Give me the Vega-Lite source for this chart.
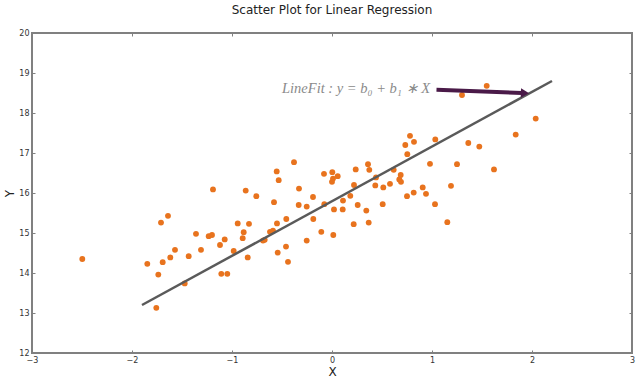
{
  "$schema": "https://vega.github.io/schema/vega-lite/v6.json",
  "autosize": {"type": "none"},
  "padding": {"left": 32, "top": 33, "right": 8, "bottom": 30},
  "width": 600,
  "height": 320,
  "title": {"text": "Scatter Plot for Linear Regression", "fontSize": 12, "font": "DejaVu Sans", "fontWeight": "normal", "color": "#222222", "offset": 12},
  "config": {
    "view": {"stroke": "#808080", "strokeWidth": 2},
    "axis": {"grid": false, "domain": false, "labelFont": "DejaVu Sans", "labelFontSize": 8, "labelColor": "#333333", "labelOverlap": false, "labelFlush": false, "tickColor": "#808080", "tickSize": -3, "labelPadding": 6, "titleFont": "DejaVu Sans", "titleFontSize": 12, "titleFontWeight": "normal", "titleColor": "#222222"}
  },
  "resolve": {"axis": {"x": "independent", "y": "independent"}},
  "datasets": {
    "pts": [
      {"x": -2.497, "y": 14.35}, {"x": -1.847, "y": 14.23}, {"x": -1.737, "y": 13.96}, {"x": -1.757, "y": 13.13},
      {"x": -1.693, "y": 14.27}, {"x": -1.71, "y": 15.26}, {"x": -1.64, "y": 15.43}, {"x": -1.617, "y": 14.39},
      {"x": -1.57, "y": 14.58}, {"x": -1.433, "y": 14.42}, {"x": -1.473, "y": 13.74}, {"x": -1.36, "y": 14.98},
      {"x": -1.31, "y": 14.58}, {"x": -1.233, "y": 14.92}, {"x": -1.2, "y": 14.95}, {"x": -1.19, "y": 16.09},
      {"x": -1.12, "y": 14.7}, {"x": -1.107, "y": 13.98}, {"x": -1.047, "y": 13.98}, {"x": -1.073, "y": 14.84},
      {"x": -0.983, "y": 14.55}, {"x": -0.943, "y": 15.24}, {"x": -0.893, "y": 14.87}, {"x": -0.883, "y": 15.02},
      {"x": -0.863, "y": 16.06}, {"x": -0.843, "y": 14.39}, {"x": -0.83, "y": 15.23}, {"x": -0.757, "y": 15.92},
      {"x": -0.69, "y": 14.81}, {"x": -0.673, "y": 14.83}, {"x": -0.62, "y": 15.03}, {"x": -0.59, "y": 15.06},
      {"x": -0.58, "y": 15.77}, {"x": -0.553, "y": 16.54}, {"x": -0.533, "y": 16.32}, {"x": -0.55, "y": 15.24},
      {"x": -0.543, "y": 14.51}, {"x": -0.457, "y": 15.35}, {"x": -0.46, "y": 14.66}, {"x": -0.44, "y": 14.28},
      {"x": -0.38, "y": 16.77}, {"x": -0.33, "y": 16.11}, {"x": -0.333, "y": 15.7}, {"x": -0.253, "y": 15.66},
      {"x": -0.253, "y": 14.81}, {"x": -0.19, "y": 15.9}, {"x": -0.187, "y": 15.35}, {"x": -0.107, "y": 15.03},
      {"x": -0.08, "y": 16.48}, {"x": -0.077, "y": 15.72}, {"x": 0.003, "y": 16.52}, {"x": 0.0, "y": 16.28},
      {"x": 0.01, "y": 16.36}, {"x": 0.057, "y": 16.42}, {"x": 0.013, "y": 14.95}, {"x": 0.02, "y": 15.59},
      {"x": 0.107, "y": 15.59}, {"x": 0.11, "y": 15.81}, {"x": 0.183, "y": 15.93}, {"x": 0.22, "y": 16.2},
      {"x": 0.237, "y": 16.59}, {"x": 0.257, "y": 15.7}, {"x": 0.217, "y": 15.22}, {"x": 0.343, "y": 15.56},
      {"x": 0.36, "y": 16.72}, {"x": 0.373, "y": 16.58}, {"x": 0.367, "y": 15.26}, {"x": 0.433, "y": 16.19},
      {"x": 0.44, "y": 16.39}, {"x": 0.507, "y": 15.72}, {"x": 0.513, "y": 16.14}, {"x": 0.58, "y": 16.23},
      {"x": 0.617, "y": 16.58}, {"x": 0.673, "y": 16.34}, {"x": 0.687, "y": 16.45}, {"x": 0.69, "y": 16.28},
      {"x": 0.733, "y": 17.2}, {"x": 0.753, "y": 16.97}, {"x": 0.78, "y": 17.43}, {"x": 0.82, "y": 17.28},
      {"x": 0.75, "y": 15.92}, {"x": 0.817, "y": 16.01}, {"x": 0.907, "y": 16.14}, {"x": 0.94, "y": 15.98},
      {"x": 0.98, "y": 16.73}, {"x": 1.03, "y": 15.72}, {"x": 1.033, "y": 17.34}, {"x": 1.153, "y": 15.27},
      {"x": 1.19, "y": 16.18}, {"x": 1.25, "y": 16.72}, {"x": 1.363, "y": 17.25}, {"x": 1.473, "y": 17.16},
      {"x": 1.62, "y": 16.59}, {"x": 1.837, "y": 17.46}, {"x": 1.547, "y": 18.68}, {"x": 1.3, "y": 18.45},
      {"x": 2.037, "y": 17.86}
    ],
    "fit": [{"x": -1.9, "y": 13.2}, {"x": 2.2, "y": 18.8}],
    "arrow": [{"x": 1.045, "y": 18.58, "x2": 1.9, "y2": 18.5}],
    "head": [{"x": 1.93, "y": 18.495}],
    "label": [{"x": 0.98, "y": 18.6, "text": "LineFit : y = b₀ + b₁ ∗ X"}]
  },
  "layer": [
    {
      "data": {"name": "pts"},
      "mark": {"type": "circle", "size": 34, "color": "#e8731e", "opacity": 1},
      "encoding": {
        "x": {"field": "x", "type": "quantitative", "scale": {"domain": [-3, 3], "nice": false, "zero": false}, "axis": {"values": [-3, -2, -1, 0, 1, 2, 3], "tickCount": 20, "format": "d", "title": "X", "titlePadding": 2}},
        "y": {"field": "y", "type": "quantitative", "scale": {"domain": [12, 20], "nice": false, "zero": false}, "axis": {"values": [12, 13, 14, 15, 16, 17, 18, 19, 20], "tickCount": 20, "format": "d", "title": "Y", "titlePadding": 2}}
      }
    },
    {
      "data": {"name": "fit"},
      "mark": {"type": "line", "color": "#5a5a5a", "strokeWidth": 2.5},
      "encoding": {
        "x": {"field": "x", "type": "quantitative", "axis": {"orient": "top", "values": [-3, -2, -1, 0, 1, 2, 3], "tickCount": 20, "labels": false, "title": null}},
        "y": {"field": "y", "type": "quantitative", "axis": {"orient": "right", "values": [12, 13, 14, 15, 16, 17, 18, 19, 20], "tickCount": 20, "labels": false, "title": null}}
      }
    },
    {
      "data": {"name": "arrow"},
      "mark": {"type": "rule", "color": "#4a1a48", "strokeWidth": 4},
      "encoding": {
        "x": {"field": "x", "type": "quantitative", "axis": null},
        "y": {"field": "y", "type": "quantitative", "axis": null},
        "x2": {"field": "x2"},
        "y2": {"field": "y2"}
      }
    },
    {
      "data": {"name": "head"},
      "mark": {"type": "point", "shape": "triangle-right", "filled": true, "size": 90, "color": "#4a1a48", "opacity": 1, "angle": 2},
      "encoding": {
        "x": {"field": "x", "type": "quantitative", "axis": null},
        "y": {"field": "y", "type": "quantitative", "axis": null}
      }
    },
    {
      "data": {"name": "label"},
      "mark": {"type": "text", "align": "right", "baseline": "middle", "font": "Liberation Serif", "fontStyle": "italic", "fontSize": 14.5, "color": "#8a8a8a"},
      "encoding": {
        "x": {"field": "x", "type": "quantitative", "axis": null},
        "y": {"field": "y", "type": "quantitative", "axis": null},
        "text": {"field": "text"}
      }
    }
  ]
}
